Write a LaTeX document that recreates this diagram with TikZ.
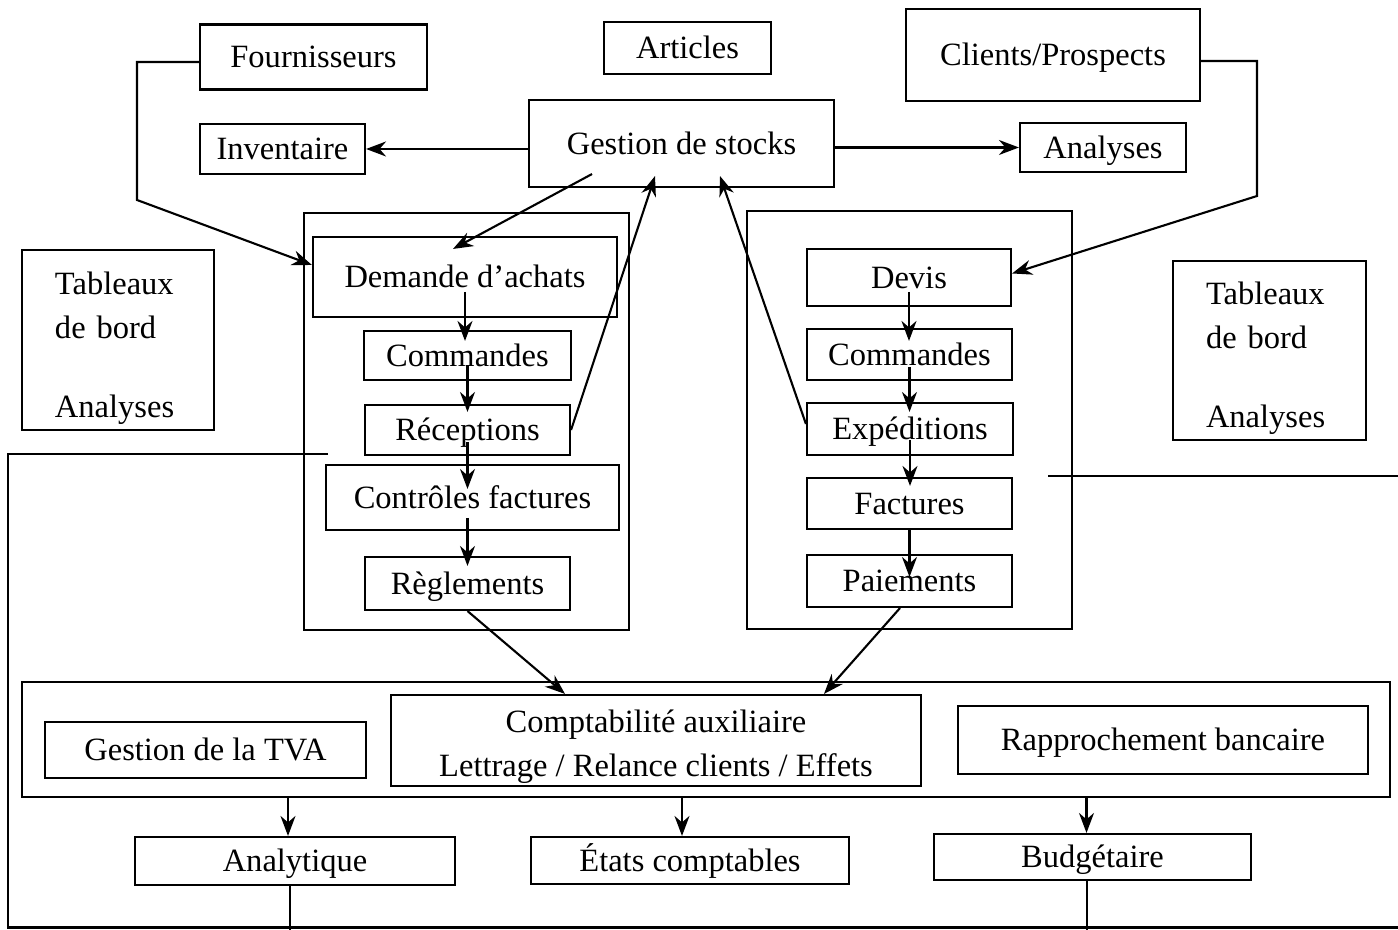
\documentclass[tikz,border=0pt]{standalone}
\usepackage{fontspec}
\setmainfont{Liberation Serif}
\usepackage{tikz}
\usetikzlibrary{arrows.meta,calc}
\tikzstyle{Boite}= [draw,line width=1.2pt,inner sep=0pt,text height=13pt,text depth=1pt,font=\fontsize{18.5}{25}\selectfont]
\tikzstyle{Libre}= [text height={},text depth={}]
\tikzstyle{Fleche}= [line width=1.2pt,-{Stealth[length=0.40cm,width=0.30cm]}]
\tikzstyle{Trait}= [line width=1.2pt]

\begin{document}
\begin{tikzpicture}
\useasboundingbox (0,0) rectangle (27.96,18.6);

		% haut
		\node [Boite,minimum width=4.54cm,minimum height=1.30cm] (four) at (6.27,17.46) {Fournisseurs};
		\node [Boite,minimum width=3.34cm,minimum height=1.04cm] (art) at (13.75,17.64) {Articles};
		\node [Boite,minimum width=5.88cm,minimum height=1.84cm] (cli) at (21.06,17.50) {Clients/Prospects};
		\node [Boite,minimum width=3.30cm,minimum height=1.00cm] (inv) at (5.65,15.62) {Inventaire};
		\node [Boite,minimum width=6.10cm,minimum height=1.74cm] (stocks) at (13.63,15.73) {Gestion de stocks};
		\node [Boite,minimum width=3.32cm,minimum height=0.98cm] (ana) at (22.06,15.65) {Analyses};

		\node [Boite,Libre,align=left,text width=2.52cm,inner xsep=0.66cm,minimum height=3.60cm] (tabG) at (2.36,11.80) {\rule{0pt}{22pt}Tableaux\\de bord\\[20pt]Analyses};
		\node [Boite,Libre,align=left,text width=2.54cm,inner xsep=0.66cm,minimum height=3.58cm] (tabD) at (25.39,11.59) {\rule{0pt}{22pt}Tableaux\\de bord\\[20pt]Analyses};

		% achats
		\node [Boite,minimum width=6.50cm,minimum height=8.34cm] (achats) at (9.33,10.17) {};
		\node [Boite,minimum width=6.08cm,minimum height=1.60cm] (dem) at (9.30,13.06) {Demande d'achats};
		\node [Boite,minimum width=4.14cm,minimum height=0.98cm] (cmdA) at (9.35,11.49) {Commandes};
		\node [Boite,minimum width=4.10cm,minimum height=1.00cm] (rec) at (9.35,10.00) {Réceptions};
		\node [Boite,minimum width=5.86cm,minimum height=1.30cm] (ctrl) at (9.45,8.65) {Contrôles factures};
		\node [Boite,minimum width=4.10cm,minimum height=1.06cm] (regl) at (9.35,6.93) {Règlements};

		% ventes
		\node [Boite,minimum width=6.50cm,minimum height=8.36cm] (ventes) at (18.19,10.20) {};
		\node [Boite,minimum width=4.08cm,minimum height=1.14cm] (devis) at (18.18,13.05) {Devis};
		\node [Boite,minimum width=4.10cm,minimum height=1.02cm] (cmdV) at (18.19,11.51) {Commandes};
		\node [Boite,minimum width=4.12cm,minimum height=1.04cm] (exp) at (18.20,10.02) {Expéditions};
		\node [Boite,minimum width=4.10cm,minimum height=1.02cm] (fact) at (18.19,8.53) {Factures};
		\node [Boite,minimum width=4.10cm,minimum height=1.04cm] (paie) at (18.19,6.98) {Paiements};

		% comptabilite
		\node [Boite,minimum width=27.36cm,minimum height=2.30cm] (compta) at (14.12,3.81) {};
		\node [Boite,minimum width=6.42cm,minimum height=1.12cm] (tva) at (4.11,3.60) {Gestion de la TVA};
		\node [Boite,Libre,align=center,minimum width=10.60cm,minimum height=1.82cm] (aux) at (13.12,3.79) {\rule{0pt}{20pt}Comptabilité auxiliaire\\Lettrage / Relance clients / Effets};
		\node [Boite,minimum width=8.20cm,minimum height=1.36cm] (banc) at (23.26,3.80) {Rapprochement bancaire};
		\node [Boite,minimum width=6.40cm,minimum height=0.96cm] (analy) at (5.90,1.38) {Analytique};
		\node [Boite,minimum width=6.36cm,minimum height=0.94cm] (etats) at (13.80,1.39) {États comptables};
		\node [Boite,minimum width=6.34cm,minimum height=0.92cm] (budg) at (21.85,1.46) {Budgétaire};

		\coordinate (fk) at (2.74,14.60);
		\coordinate (ck) at (25.14,14.68);
		\coordinate (lg) at (6.56,9.52);
		\coordinate (ld) at (20.96,9.08);

		\draw[Fleche]
		([yshift=-0.1cm]four.west) -- ([yshift=-0.1cm]four.west -| fk) -- (fk) -- ([yshift=0.24cm]dem.west);
		\draw[Fleche]
		([yshift=-0.12cm]cli.east) -- ([yshift=-0.12cm]cli.east -| ck) -- (ck) -- ([yshift=0.08cm]devis.east);
		\draw[Fleche]
		(stocks.west |- inv) -- (inv);
		\draw[Fleche]
		(stocks.east |- ana) -- (ana);
		\draw[Fleche]
		([xshift=-1.79cm,yshift=0.28cm]stocks.south) -- ([xshift=-0.24cm,yshift=-0.26cm]dem.north);
		\draw[Fleche]
		(rec.east) -- ([xshift=-0.53cm,yshift=0.24cm]stocks.south);
		\draw[Fleche]
		([yshift=0.1cm]exp.west) -- ([xshift=0.77cm,yshift=0.24cm]stocks.south);

		\draw[Fleche]
		([yshift=-0.30cm]dem.center) -- ($(dem.center |- cmdA.north)+(0,-0.22)$);
		\draw[Fleche]
		([yshift=-0.19cm]cmdA.center) -- ($(cmdA.center |- rec.north)+(0,-0.16)$);
		\draw[Fleche]
		([yshift=-0.24cm]rec.center) -- ($(rec.center |- ctrl.north)+(0,-0.50)$);
		\draw[Fleche]
		($(rec.center |- ctrl.center)+(0,-0.41)$) -- ($(rec.center |- regl.north)+(0,-0.20)$);

		\draw[Fleche]
		([yshift=-0.29cm]devis.center) -- ($(devis.center |- cmdV.north)+(0,-0.26)$);
		\draw[Fleche]
		([yshift=-0.25cm]cmdV.center) -- ($(cmdV.center |- exp.north)+(0,-0.20)$);
		\draw[Fleche]
		([yshift=-0.22cm]exp.center) -- ($(exp.center |- fact.north)+(0,-0.18)$);
		\draw[Fleche]
		(fact.south) -- ([yshift=-0.46cm]paie.north);

		\draw[Fleche]
		(regl.south) -- ([xshift=-1.82cm]aux.north);
		\draw[Fleche]
		([xshift=-0.19cm]paie.south) -- ([xshift=3.36cm]aux.north);

		\draw[Fleche]
		([xshift=-0.14cm]compta.south -| analy.north) -- ([xshift=-0.14cm]analy.north);
		\draw[Fleche]
		([xshift=-0.16cm]compta.south -| etats.north) -- ([xshift=-0.16cm]etats.north);
		\draw[Fleche]
		([xshift=-0.12cm]compta.south -| budg.north) -- ([xshift=-0.12cm]budg.north);

		\draw[Trait]
		(lg) -- (0.16,9.52) -- (0.16,0.05) -- (27.96,0.05);
		\draw[Trait]
		(ld) -- (27.96,9.08);
		\draw[Trait]
		([xshift=-0.10cm]analy.south) -- ++(0,-1.28);
		\draw[Trait]
		([xshift=-0.11cm]budg.south) -- ++(0,-1.35);
		;

\end{tikzpicture}
\end{document}
